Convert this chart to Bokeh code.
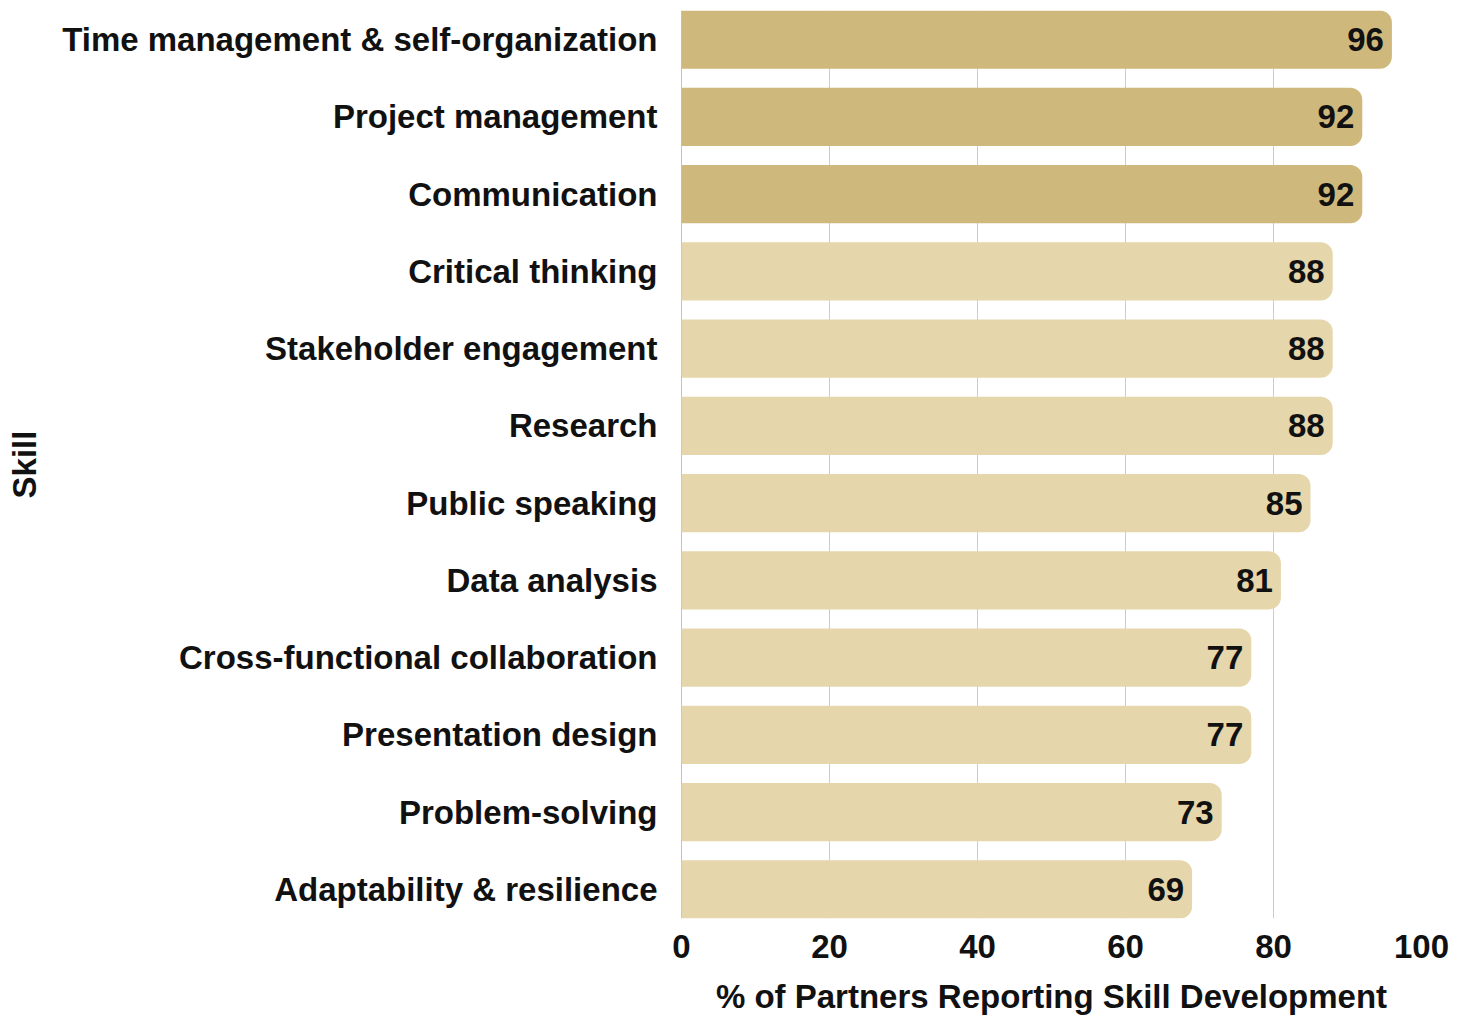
from bokeh.plotting import figure
from bokeh.models import ColumnDataSource, Range1d, FixedTicker, Span
from bokeh.embed import file_html
from bokeh.resources import INLINE
from bokeh.core.properties import value

skills = ["Time management & self-organization", "Project management", "Communication",
          "Critical thinking", "Stakeholder engagement", "Research", "Public speaking",
          "Data analysis", "Cross-functional collaboration", "Presentation design",
          "Problem-solving", "Adaptability & resilience"]
percent = [96, 92, 92, 88, 88, 88, 85, 81, 77, 77, 73, 69]
highlight = [True, True, True, False, False, False, False, False, False, False, False, False]
x_ticks = [0, 20, 40, 60, 80, 100]

n = len(skills)
ypos = [n - 1 - i for i in range(n)]
colors = ["#CFB87C" if h else "#E5D6AB" for h in highlight]
src = ColumnDataSource(dict(y=ypos, v=percent, c=colors, lab=[str(v) for v in percent]))

FONT = "Liberation Sans"
FS = "33px"
bh = 0.753
p = figure(width=1455, height=1017, output_backend="svg", toolbar_location=None,
           x_range=Range1d(0, 100), y_range=Range1d(-bh / 2, n - 1 + bh / 2),
           min_border_left=681, min_border_right=34, min_border_top=10, min_border_bottom=10)
p.outline_line_color = None
p.ygrid.grid_line_color = None
p.xgrid.grid_line_color = "#CCCCCC"
p.xgrid.grid_line_width = 1
p.xgrid.ticker = FixedTicker(ticks=x_ticks)
p.add_layout(Span(location=0, dimension="height", line_color="#888888", line_width=1, level="underlay"))

p.hbar(y="y", left=0, right="v", height=bh, fill_color="c", line_color=None, source=src,
       border_radius=(0, 12, 12, 0))
p.text(x="v", y="y", text="lab", source=src, x_offset=-8, text_align="right", text_baseline="middle",
       text_font=value(FONT), text_font_style="bold", text_font_size=FS, text_color="#111111")

p.xaxis.ticker = FixedTicker(ticks=x_ticks)
p.xaxis.axis_line_color = None
p.xaxis.major_tick_line_color = None
p.xaxis.minor_tick_line_color = None
p.xaxis.major_label_standoff = 10
p.xaxis.axis_label = "% of Partners Reporting Skill Development"
p.xaxis.axis_label_standoff = 17

p.yaxis.ticker = FixedTicker(ticks=ypos)
p.yaxis.major_label_overrides = {y: s for y, s in zip(ypos, skills)}
p.yaxis.axis_line_color = None
p.yaxis.major_tick_line_color = None
p.yaxis.minor_tick_line_color = None
p.yaxis.major_label_standoff = 18
p.yaxis.axis_label = "Skill"
p.yaxis.axis_label_standoff = 16

for ax in (p.xaxis[0], p.yaxis[0]):
    ax.major_label_text_font = FONT
    ax.major_label_text_font_style = "bold"
    ax.major_label_text_font_size = FS
    ax.major_label_text_color = "#111111"
    ax.axis_label_text_font = FONT
    ax.axis_label_text_font_style = "bold"
    ax.axis_label_text_font_size = FS
    ax.axis_label_text_color = "#111111"

open("out.html", "w").write(file_html(p, INLINE))
